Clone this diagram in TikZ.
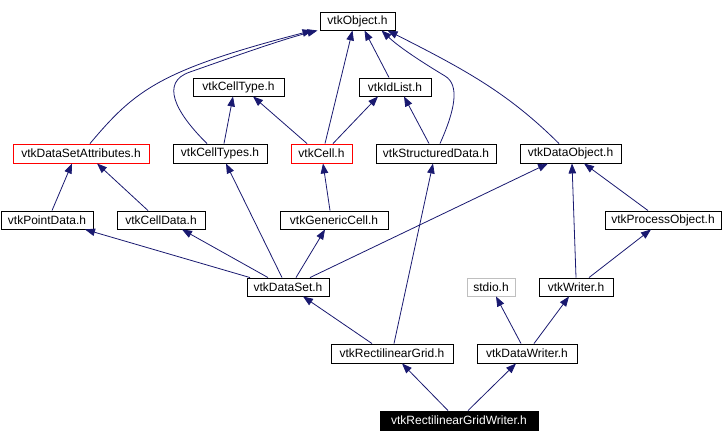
\documentclass[tikz,border=0pt]{standalone}
\usepackage{fontspec}
\setmainfont{Liberation Sans}
\usetikzlibrary{arrows.meta}
\definecolor{edgeblue}{HTML}{191970}
\definecolor{redline}{HTML}{FF0000}
\definecolor{greyline}{HTML}{BFBFBF}
\begin{document}
\begin{tikzpicture}[x=1pt,y=-1pt,
  box/.style={draw=black,line width=0.9pt,fill=white,inner sep=0pt,minimum height=19pt,
    font=\fontsize{12}{14}\selectfont,text=black},
  redbox/.style={box,draw=redline},
  greybox/.style={box,draw=greyline},
  blackbox/.style={box,fill=black,text=white},
  edge/.style={draw=edgeblue,line width=0.8pt,-{Triangle[length=10pt,width=7.5pt]}}]
\useasboundingbox (0,0) rectangle (722,442);
% nodes
\node[box,minimum width=75pt,minimum height=18pt] (obj) at (357.5,21) {vtkObject.h};
\node[box,minimum width=91pt,minimum height=18pt] (ctype) at (238.5,87) {vtkCellType.h};
\node[box,minimum width=72pt,minimum height=18pt] (idl) at (395,87) {vtkIdList.h};
\node[redbox,minimum width=136pt] (dsa) at (81,153.5) {vtkDataSetAttributes.h};
\node[box,minimum width=94pt] (ctypes) at (220,153.5) {vtkCellTypes.h};
\node[redbox,minimum width=61pt] (cell) at (321.5,153.5) {vtkCell.h};
\node[box,minimum width=120pt] (sd) at (436,153.5) {vtkStructuredData.h};
\node[box,minimum width=101pt] (dobj) at (570.5,153.5) {vtkDataObject.h};
\node[box,minimum width=92pt,minimum height=18pt] (pd) at (47,220) {vtkPointData.h};
\node[box,minimum width=88pt,minimum height=18pt] (cd) at (161,220) {vtkCellData.h};
\node[box,minimum width=108pt,minimum height=18pt] (gc) at (334,220) {vtkGenericCell.h};
\node[box,minimum width=116pt,minimum height=18pt] (po) at (663,220) {vtkProcessObject.h};
\node[box,minimum width=82pt,minimum height=18pt] (ds) at (288,287) {vtkDataSet.h};
\node[greybox,minimum width=48pt,minimum height=18pt] (stdio) at (491,287) {stdio.h};
\node[box,minimum width=74pt,minimum height=18pt] (wr) at (576,287) {vtkWriter.h};
\node[box,minimum width=122pt] (rg) at (392,353.5) {vtkRectilinearGrid.h};
\node[box,minimum width=100pt] (dw) at (527,353.5) {vtkDataWriter.h};
\node[blackbox,minimum width=158pt] (rgw) at (459,420.5) {vtkRectilinearGridWriter.h};
% edges
\draw[edge] ([xshift=9]dsa.north) .. controls (135,90) and (160,70) .. ([xshift=-45]obj.south);
\draw[edge] ([xshift=-13]ctypes.north) .. controls (175,112) and (160,82) .. (190,72) .. controls (230,58) and (280,40) .. ([xshift=-40]obj.south);
\draw[edge] ([xshift=3.5]cell.north) -- ([xshift=-5]obj.south);
\draw[edge] ([xshift=-6]idl.north) -- ([xshift=7]obj.south);
\draw[edge] ([xshift=4]sd.north) .. controls (455,110) and (460,85) .. (445,76) .. controls (425,64) and (400,48) .. ([xshift=24]obj.south);
\draw[edge] ([xshift=-11.5]dobj.north) .. controls (510,95) and (470,72) .. ([xshift=30]obj.south);
\draw[edge] ([xshift=4]ctypes.north) -- ([xshift=-5.5]ctype.south);
\draw[edge] ([xshift=-14.5]cell.north) -- ([xshift=14.5]ctype.south);
\draw[edge] ([xshift=11.5]cell.north) -- ([xshift=-17]idl.south);
\draw[edge] ([xshift=-7]sd.north) -- ([xshift=9]idl.south);
\draw[edge] ([xshift=5]pd.north) -- ([xshift=-9]dsa.south);
\draw[edge] ([xshift=-13]cd.north) -- ([xshift=16]dsa.south);
\draw[edge] ([xshift=-4]gc.north) -- ([xshift=1.5]cell.south);
\draw[edge] ([xshift=-15]po.north) -- ([xshift=13.5]dobj.south);
\draw[edge] ([xshift=-38]ds.north) -- ([xshift=38]pd.south);
\draw[edge] ([xshift=-20]ds.north) -- ([xshift=21]cd.south);
\draw[edge] ([xshift=-6]ds.north) -- ([xshift=6]ctypes.south);
\draw[edge] ([xshift=8]ds.north) -- ([xshift=-9]gc.south);
\draw[edge] ([xshift=22]ds.north) -- ([xshift=-22.5]dobj.south);
\draw[edge] (wr.north) -- ([xshift=1.5]dobj.south);
\draw[edge] ([xshift=13]wr.north) -- ([xshift=-12]po.south);
\draw[edge] ([xshift=-20]rg.north) -- ([xshift=15]ds.south);
\draw[edge] ([xshift=2]rg.north) -- ([xshift=-3]sd.south);
\draw[edge] ([xshift=-6]dw.north) -- ([xshift=5]stdio.south);
\draw[edge] ([xshift=7]dw.north) -- ([xshift=-7]wr.south);
\draw[edge] ([xshift=-11]rgw.north) -- ([xshift=10]rg.south);
\draw[edge] ([xshift=9]rgw.north) -- ([xshift=-11]dw.south);
\end{tikzpicture}
\end{document}
